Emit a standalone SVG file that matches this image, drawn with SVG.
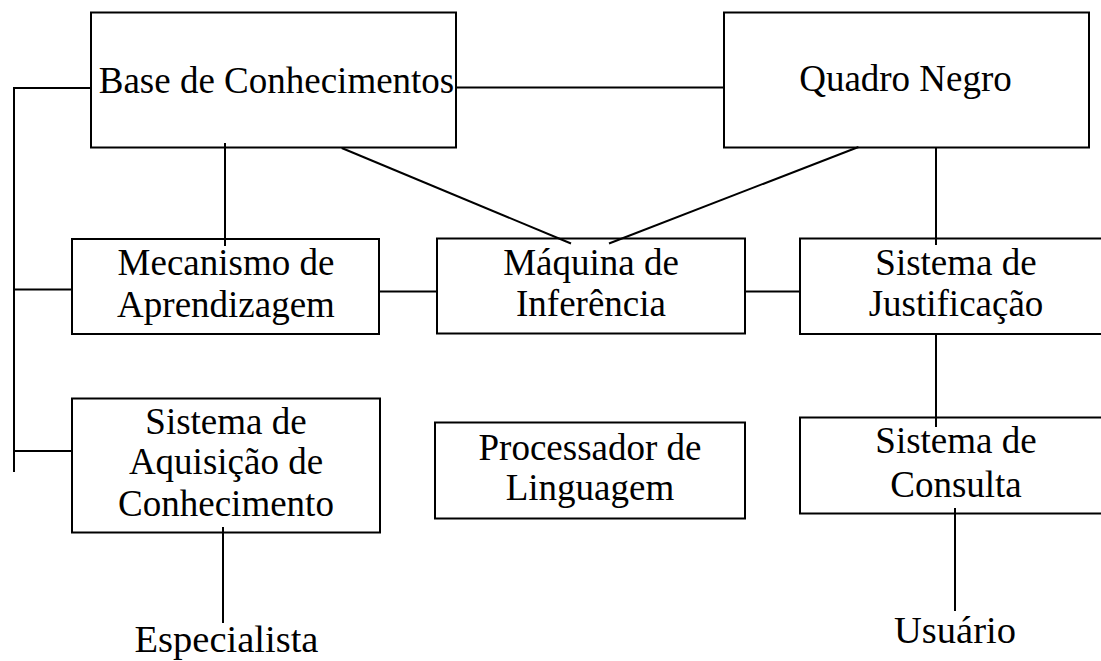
<svg xmlns="http://www.w3.org/2000/svg" width="1101" height="661" viewBox="0 0 1101 661">
<style>
.box{fill:#fff;stroke:#000;stroke-width:2}
.ln{stroke:#000;stroke-width:2;fill:none}
.t{font-family:"Liberation Serif","Times New Roman",serif;font-size:37px;fill:#000;text-anchor:middle}
.t2{font-family:"Liberation Serif","Times New Roman",serif;font-size:38.5px;fill:#000;text-anchor:middle}
</style>
<rect width="1101" height="661" fill="#fff"/>
<g id="connectors">
<path class="ln" d="M14 88H91M14 87V472M14 289.5H72M14 451H72"/>
<path class="ln" d="M456 87.5H724"/>
<path class="ln" d="M225 143V246"/>
<path class="ln" d="M341.7 148L571 243.5"/>
<path class="ln" d="M858.5 147L609 243.5"/>
<path class="ln" d="M379 291.5H437M745 291.5H800"/>
<path class="ln" d="M936 147V245M936 333V427"/>
<path class="ln" d="M223 527V623"/>
<path class="ln" d="M955 508V611"/>
</g>
<g id="base">
<rect class="box" x="91" y="12.5" width="365" height="135" fill="none" style="fill:none"/>
<text class="t" x="276.5" y="92.5">Base de Conhecimentos</text>
</g>
<g id="quadro">
<rect class="box" x="724" y="12.5" width="365" height="135" style="fill:none"/>
<text class="t" x="905.5" y="91">Quadro Negro</text>
</g>
<g id="mecanismo">
<rect class="box" x="72" y="239" width="307" height="95" style="fill:none"/>
<text class="t" x="226" y="275">Mecanismo de</text>
<text class="t" x="226" y="316.5">Aprendizagem</text>
</g>
<g id="maquina">
<rect class="box" x="437" y="238.5" width="308" height="95" style="fill:none"/>
<text class="t" x="591" y="275">Máquina de</text>
<text class="t" x="591" y="316">Inferência</text>
</g>
<g id="justificacao">
<rect class="box" x="800" y="238.5" width="310" height="95.5" style="fill:none"/>
<text class="t" x="956" y="274.5">Sistema de</text>
<text class="t" x="956" y="316">Justificação</text>
</g>
<g id="aquisicao">
<rect class="box" x="72" y="398.5" width="308" height="134" style="fill:none"/>
<text class="t" x="226" y="433.5">Sistema de</text>
<text class="t" x="226" y="474">Aquisição de</text>
<text class="t" x="226" y="515.5">Conhecimento</text>
</g>
<g id="processador">
<rect class="box" x="435" y="422.5" width="310" height="96" style="fill:none"/>
<text class="t" x="590" y="460">Processador de</text>
<text class="t" x="590" y="500">Linguagem</text>
</g>
<g id="consulta">
<rect class="box" x="800" y="417.5" width="310" height="96" style="fill:none"/>
<text class="t" x="956" y="453">Sistema de</text>
<text class="t" x="956" y="497">Consulta</text>
</g>
<g id="especialista">
<text class="t2" x="226.5" y="652">Especialista</text>
</g>
<g id="usuario">
<text class="t2" x="955" y="643">Usuário</text>
</g>
</svg>
